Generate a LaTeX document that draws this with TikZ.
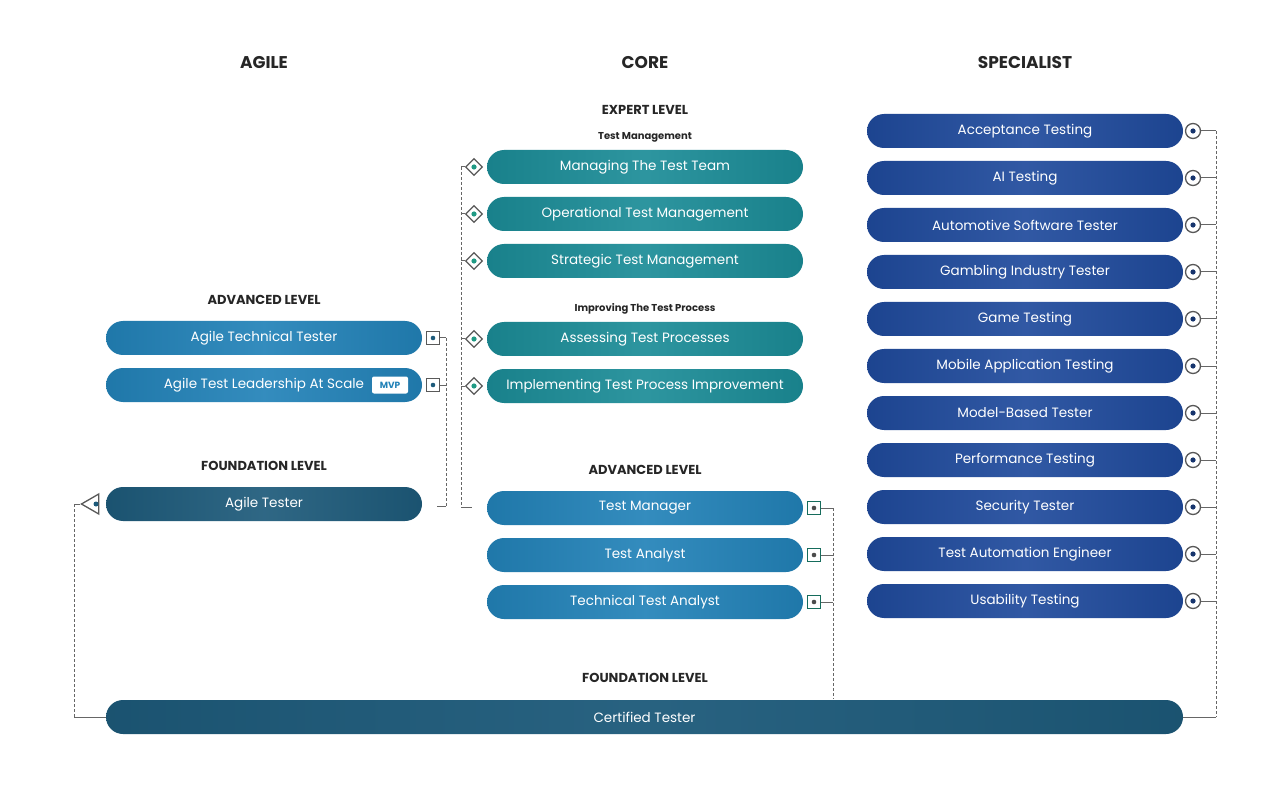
\documentclass[tikz,border=0pt]{standalone}
\usepackage{fontspec}
\setmainfont{Poppins}
\usetikzlibrary{shapes.geometric}
\begin{document}
\begin{tikzpicture}[x=1pt,y=-1pt,
 pill/.style={rounded corners=17pt,minimum height=34pt,text=white,font=\fontsize{13.5}{13.5}\selectfont,inner sep=0pt},
 hdr/.style={font=\bfseries\fontsize{17}{17}\selectfont,text=black!85},
 lvl/.style={font=\bfseries\fontsize{13}{13}\selectfont,text=black!85},
 sub/.style={font=\bfseries\fontsize{10}{10}\selectfont,text=black!85},
 dconn/.style={draw=black!60,dash pattern=on 3pt off 2pt,line width=0.8pt},
 sconn/.style={draw=black!60,line width=1pt},
 sq/.style={draw=#1,line width=1.3pt,minimum size=13pt,inner sep=0pt,rectangle},
]
\definecolor{agb}{HTML}{2282B8}
\definecolor{dkb}{HTML}{1D5A7A}
\definecolor{teal}{HTML}{1B8C97}
\definecolor{nav}{HTML}{1F4A9C}
\definecolor{icg}{HTML}{1F9A84}
\useasboundingbox (0,0) rectangle (1280,786);
\fill[white] (0,0) rectangle (1280,786);
\tikzset{p/.style={pill,minimum width=316pt,left color=#1!92!black,right color=#1!92!black,middle color=#1!92!white}}
% headers
\node[hdr] (hA) at (264,63) {AGILE};
\node[hdr] (hC) at (645,63) {CORE};
\node[hdr] (hS) at (1025,63) {SPECIALIST};
\node[lvl] (el) at (645,110) {EXPERT LEVEL};
\node[sub] (tm) at (645,137) {Test Management};
\node[sub] (itp) at (645,309) {Improving The Test Process};
\node[lvl] (aal) at (264,300) {ADVANCED LEVEL};
\node[lvl] (afl) at (264,466) {FOUNDATION LEVEL};
\node[lvl] (cal) at (645,470) {ADVANCED LEVEL};
\node[lvl] (cfl) at (645,678) {FOUNDATION LEVEL};
% agile
\node[p=agb] (a1) at (264,338) {Agile Technical Tester};
\node[p=agb] (a2) at (264,385) {Agile Test Leadership At Scale\hspace{60pt}};
\node[fill=white,rounded corners=2pt,minimum width=36pt,minimum height=17pt,inner sep=0pt,text=agb,font=\bfseries\fontsize{9}{9}\selectfont] (mvp) at (390,385) {MVP};
\node[p=dkb] (a3) at (264,504) {Agile Tester};
% core expert
\foreach \n/\y/\t in {e1/167/Managing The Test Team,e2/214/Operational Test Management,e3/261/Strategic Test Management,e4/339/Assessing Test Processes,e5/386/Implementing Test Process Improvement}
 \node[p=teal] (\n) at (645,\y) {\t};
\foreach \n/\y/\t in {c1/508/Test Manager,c2/555/Test Analyst,c3/602/Technical Test Analyst}
 \node[p=agb] (\n) at (645,\y) {\t};
% specialist
\foreach \n/\y/\t in {s1/131/Acceptance Testing,s2/178/AI Testing,s3/225/Automotive Software Tester,s4/272/Gambling Industry Tester,s5/319/Game Testing,s6/366/Mobile Application Testing,s7/413/Model-Based Tester,s8/460/Performance Testing,s9/507/Security Tester,s10/554/Test Automation Engineer,s11/601/Usability Testing}
 \node[p=nav] (\n) at (1025,\y) {\t};
\node[pill,minimum width=1077pt,left color=dkb!92!black,right color=dkb!92!black,middle color=dkb!95!white] (cert) at (644.5,717) {Certified Tester};
% agile advanced connectors
\foreach \n/\y in {qa1/338,qa2/385}{
 \node[sq=black!65] (\n) at (433,\y) {};
 \fill[dkb] (\n) circle (2.3pt);
 \draw[sconn] (\n.east) -- (446,\y);
}
\coordinate (ja) at (446,506);
\draw[dconn] (446,338) -- (ja);
\draw[sconn] (437,506) -- (ja);
% expert diamonds
\foreach \n/\y in {d1/167,d2/214,d3/261,d4/339,d5/386}{
 \node[draw=black!65,line width=1.3pt,diamond,minimum size=17pt,inner sep=0pt,fill=white] (\n) at (474,\y) {};
 \fill[icg] (\n) circle (2.6pt);
 \draw[sconn] (\n.west) -- (461,\y);
}
\coordinate (je) at (461,507);
\draw[dconn] (461,167) -- (je);
\draw[sconn] (je) -- (472,507);
% core advanced
\foreach \n/\y in {q1/508,q2/555,q3/602}{
 \node[sq=icg!70!black] (\n) at (814,\y) {};
 \fill[black!70] (\n) circle (2.3pt);
 \draw[sconn] (\n.east) -- (833,\y);
}
\draw[dconn] (833,508) -- (833,699);
% specialist circles
\foreach \n/\y in {o1/131,o2/178,o3/225,o4/272,o5/319,o6/366,o7/413,o8/460,o9/507,o10/554,o11/601}{
 \node[circle,draw=black!65,line width=1.3pt,minimum size=15pt,inner sep=0pt] (\n) at (1193,\y) {};
 \fill[nav!70!black] (\n) circle (2.6pt);
 \draw[sconn] (\n.east) -- (1216,\y);
}
\draw[dconn] (1216,131) -- (1216,717);
\draw[sconn] (1216,717) -- (cert.east);
% agile tester triangle
\node[isosceles triangle,isosceles triangle apex angle=60,shape border rotate=180,draw=black!65,line width=1.3pt,minimum height=17pt,minimum width=20pt,inner sep=0pt] (tri) at (93,504) {};
\fill[dkb] (96,504) circle (2.5pt);
\draw[sconn] (tri.apex) -- (74,504);
\draw[dconn] (74,504) -- (74,717);
\draw[sconn] (74,717) -- (cert.west);
\end{tikzpicture}
\end{document}
